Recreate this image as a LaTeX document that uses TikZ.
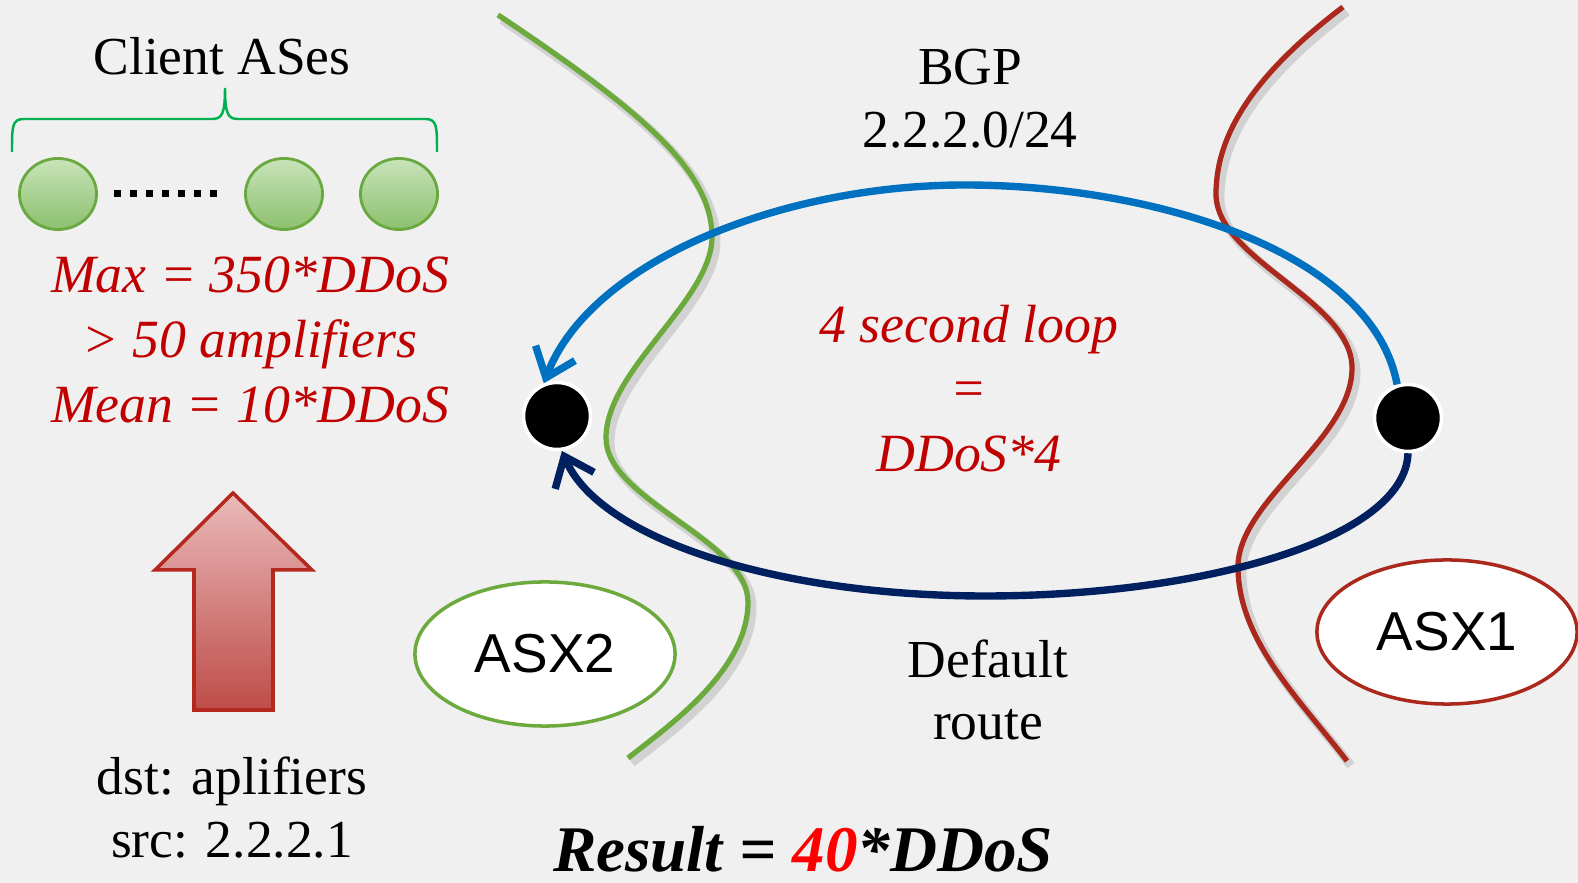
\documentclass[tikz,border=0pt]{standalone}
\usepackage{fontspec}
\setmainfont{Liberation Serif}
\newfontfamily\asfont{Liberation Sans}
\usetikzlibrary{shapes.geometric,arrows.meta}

\definecolor{bg}{RGB}{240,240,240}
\definecolor{wallgreen}{RGB}{108,170,62}
\definecolor{wallred}{RGB}{170,40,28}
\definecolor{bgpblue}{RGB}{0,112,192}
\definecolor{defnavy}{RGB}{0,32,96}
\definecolor{txtred}{RGB}{192,0,0}
\definecolor{bracegreen}{RGB}{0,176,80}
\definecolor{asgreenlight}{RGB}{200,228,185}
\definecolor{asgreendark}{RGB}{140,192,110}
\definecolor{asgreenline}{RGB}{106,168,64}
\definecolor{uparrowtop}{RGB}{234,186,186}
\definecolor{uparrowbot}{RGB}{190,76,72}
\definecolor{uparrowline}{RGB}{180,40,30}

\begin{document}
\begin{tikzpicture}[x=0.01cm,y=-0.01cm,
  lbl/.style={font=\fontsize{15.2}{18}\selectfont, anchor=base, inner sep=0pt},
  redlbl/.style={lbl, text=txtred, font=\fontsize{15.3}{18}\selectfont\itshape},
  wall/.style={line width=1.5pt,
    preaction={draw=black, opacity=0.12, line width=2.6pt,
      transform canvas={shift={(1.1pt,-1.3pt)}}}},
  asclient/.style={ellipse, minimum width=0.77cm, minimum height=0.71cm,
    inner sep=0pt, draw=asgreenline, line width=0.8pt,
    top color=asgreenlight, bottom color=asgreendark},
  asx/.style={ellipse, minimum width=2.6cm, minimum height=1.44cm,
    inner sep=0pt, fill=white, line width=1pt,
    font=\asfont\fontsize{15.6}{18}\selectfont},
  router/.style={circle, minimum size=0.67cm, inner sep=0pt,
    fill=black, draw=white, line width=1pt},
  loopline/.style={line width=2.1pt,
    -{Straight Barb[length=7.5pt,width=12pt]}},
]
\useasboundingbox (0,0) rectangle (1578,883);
\fill[bg] (0,0) rectangle (1578,883);

% client ASes with their brace
\node[lbl] (clients) at (222,75) {Client ASes};
\draw[bracegreen, line width=0.7pt]
  (12,152) .. controls (12,126) and (12,119) .. (24,119) -- (212,119)
  .. controls (222,119) and (225,114) .. (225,88)
  .. controls (225,114) and (228,119) .. (238,119) -- (425,119)
  .. controls (437,119) and (437,126) .. (437,152);
\node[asclient] (c1) at (58,194) {};
\node[asclient] (c2) at (284,194) {};
\node[asclient] (c3) at (399,194) {};
\foreach \i in {0,...,6}
  \fill (113.5+16*\i,190.5) rectangle +(7,7);

\node[redlbl] (max)  at (250,293) {Max = 350*DDoS};
\node[redlbl] (amp)  at (250,358) {> 50 amplifiers};
\node[redlbl] (mean) at (250,423) {Mean = 10*DDoS};

% attack traffic arrow
\draw[uparrowline, line width=1pt, top color=uparrowtop, bottom color=uparrowbot]
  (233,493) -- (312,570) -- (273,570) -- (273,710) -- (194,710)
  -- (194,570) -- (155,570) -- cycle;
\node[lbl] (dst) at (232,795) {dst: aplifiers};
\node[lbl] (src) at (232,858) {src: 2.2.2.1};

% AS borders
\draw[wall, wallgreen]
  (498,15) .. controls (640,110) and (712,170) .. (712,237)
  .. controls (712,300) and (606,370) .. (606,438)
  .. controls (606,500) and (748,540) .. (748,602)
  .. controls (748,670) and (670,725) .. (628,758);
\draw[wall, wallred]
  (1343,7) .. controls (1260,70) and (1216,130) .. (1216,194)
  .. controls (1216,260) and (1352,300) .. (1352,368)
  .. controls (1352,440) and (1238,500) .. (1238,567)
  .. controls (1238,640) and (1300,700) .. (1347,761);

% routers
\node[router] (ldot) at (557,416) {};
\node[router] (rdot) at (1408,418) {};

% routing loop
\draw[loopline, bgpblue] (rdot.108)
  .. controls (1372,250) and (1150,185) .. (965,185)
  .. controls (780,185) and (590,262) .. (ldot.112);
\draw[loopline, defnavy] (rdot.south)
  .. controls (1405,540) and (1200,596) .. (985,596)
  .. controls (780,596) and (600,540) .. (ldot.-82);

\node[lbl] (bgp) at (970,85) {BGP};
\node[lbl] (prefix) at (970,148) {2.2.2.0/24};
\node[redlbl] (loop) at (969,343) {4 second loop};
\node[redlbl] (eq) at (969,407) {=};
\node[redlbl] (times) at (969,472) {DDoS*4};
\node[lbl] (default) at (988,678) {Default};
\node[lbl] (route) at (988,740) {route};

\node[asx, draw=wallgreen] (asx2) at (545,654) {ASX2};
\node[asx, draw=wallred] (asx1) at (1447,632) {ASX1};

\node[lbl, font=\fontsize{18.5}{22}\selectfont\bfseries\itshape] (result)
  at (803,872) {Result = \textcolor{red}{40}*DDoS};
\end{tikzpicture}
\end{document}
